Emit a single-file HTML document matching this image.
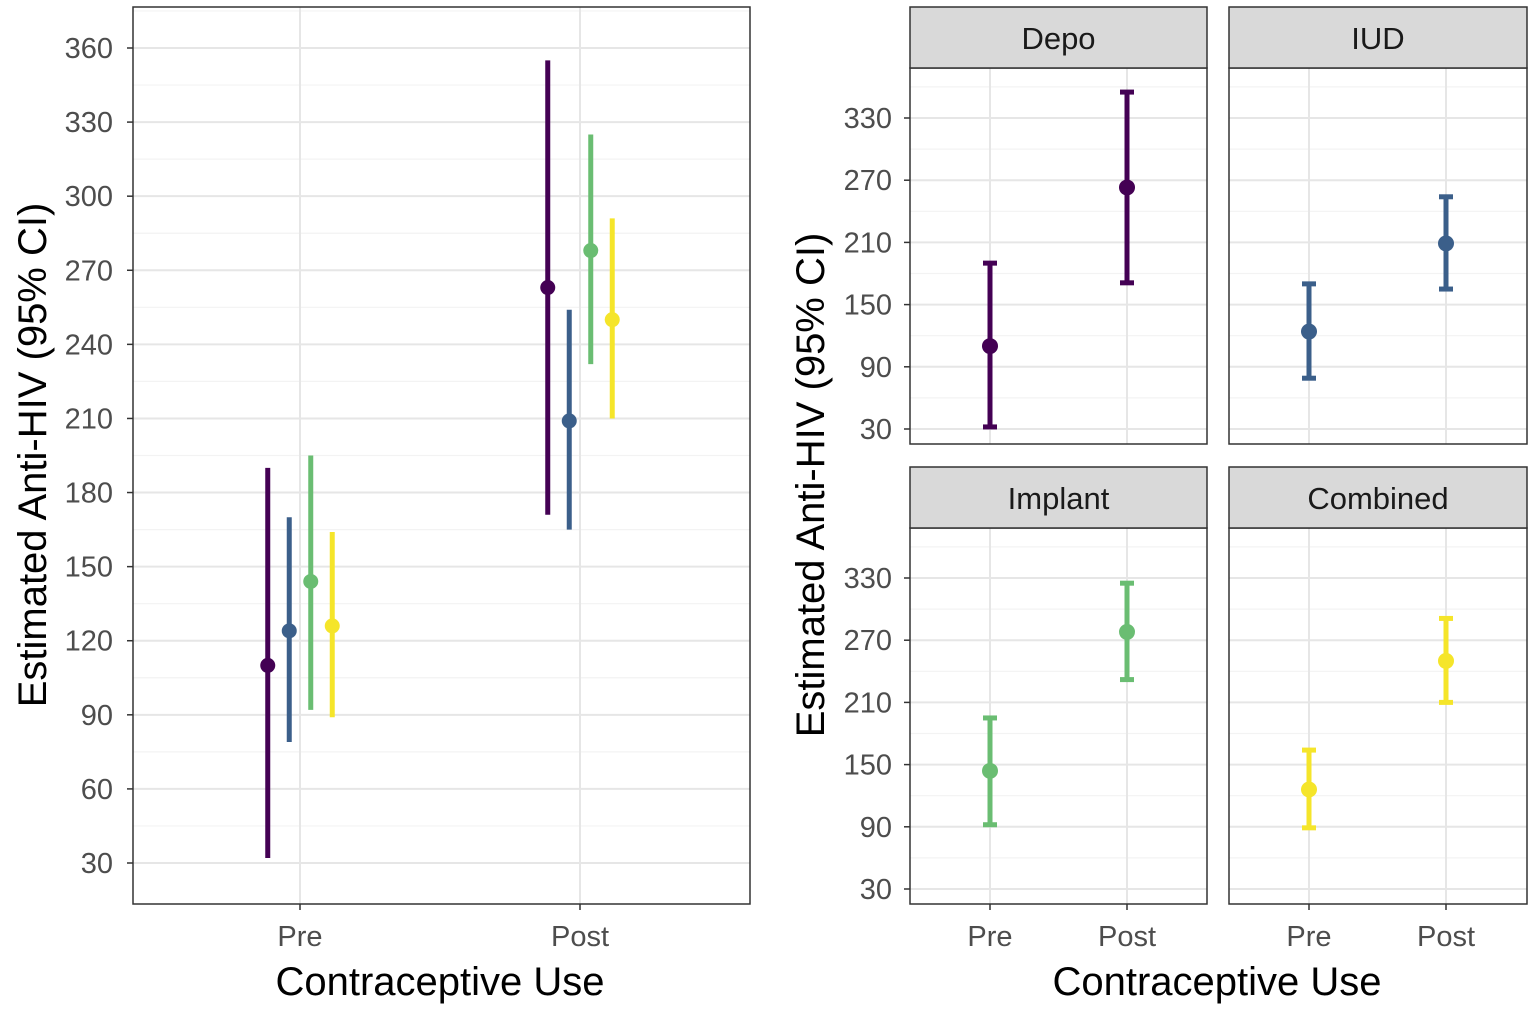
<!DOCTYPE html>
<html><head><meta charset="utf-8"><style>
body{margin:0;background:#fff;}
svg{display:block;font-family:"Liberation Sans",Arial,sans-serif;}
</style></head><body>
<svg id="chart" width="1535" height="1013" viewBox="0 0 1535 1013"></svg>
<script>
const groups = ["Depo","IUD","Implant","Combined"];
const colors = ["#440154","#3b5f8a","#6abd72","#f5e52a"];
const timepoints = ["Pre","Post"];
const estPre = [110,124,144,126];
const lowPre = [32,79,92,89];
const highPre = [190,170,195,164];
const estPost = [263,209,278,250];
const lowPost = [171,165,232,210];
const highPost = [355,254,325,291];
const leftTicks = [30,60,90,120,150,180,210,240,270,300,330,360];
const rightTicks = [30,90,150,210,270,330];

const NS="http://www.w3.org/2000/svg";
const svg=document.getElementById('chart');
function mk(tag,attrs,parent){const e=document.createElementNS(NS,tag);for(const k in attrs)e.setAttribute(k,attrs[k]);(parent||svg).appendChild(e);return e;}

// ---- left panel ----
const L={x0:133,x1:750,y0:7,y1:904};
const ly=v=>863-(v-30)*(815/330);
const lx={Pre:300,Post:580};
const dodge=21.5;
const lg=mk('g',{});


for(let v=45;v<=375;v+=30){const y=ly(v);if(y>L.y0&&y<L.y1){const l=mk('line',{x1:L.x0,x2:L.x1,y1:y,y2:y,stroke:'#f3f3f3','stroke-width':1.2},lg);}}
leftTicks.forEach(v=>{const y=ly(v);
 const l=mk('line',{x1:L.x0,x2:L.x1,y1:y,y2:y,stroke:'#e6e6e6','stroke-width':2},lg);
 
 mk('line',{x1:L.x0-6,x2:L.x0,y1:y,y2:y,stroke:'#333','stroke-width':1.5},lg);
 const t=mk('text',{x:L.x0-20,y:y+10,'text-anchor':'end','font-size':29,fill:'#4d4d4d'},lg);t.textContent=v;
 });
timepoints.forEach(tp=>{const x=lx[tp];
 const l=mk('line',{x1:x,x2:x,y1:L.y0,y2:L.y1,stroke:'#e6e6e6','stroke-width':2},lg);
 
 mk('line',{x1:x,x2:x,y1:L.y1,y2:L.y1+6,stroke:'#333','stroke-width':1.5},lg);
 const t=mk('text',{x:x,y:946,'text-anchor':'middle','font-size':29,fill:'#4d4d4d'},lg);t.textContent=tp;
 });
groups.forEach((g,i)=>{
 [[estPre,lowPre,highPre,'Pre'],[estPost,lowPost,highPost,'Post']].forEach(([e,lo,hi,tp])=>{
  const x=lx[tp]+(i-1.5)*dodge;
  const r=mk('line',{x1:x,x2:x,y1:ly(lo[i]),y2:ly(hi[i]),stroke:colors[i],'stroke-width':5},lg);
  
  const c=mk('circle',{cx:x,cy:ly(e[i]),r:7.5,fill:colors[i]},lg);
  
 });});
mk('rect',{x:L.x0,y:L.y0,width:L.x1-L.x0,height:L.y1-L.y0,fill:'none',stroke:'#333','stroke-width':1.5},lg);
let t=mk('text',{x:440,y:995,'text-anchor':'middle','font-size':40,fill:'#000'});t.textContent='Contraceptive Use';

t=mk('text',{x:0,y:0,'text-anchor':'middle','font-size':40,fill:'#000',transform:'translate(46,455) rotate(-90)'});t.textContent='Estimated Anti-HIV (95% CI)';


// ---- right facets ----
const facets=[{x0:910,x1:1207,y0:68,y1:444,sy:7},{x0:1229,x1:1527,y0:68,y1:444,sy:7},{x0:910,x1:1207,y0:528,y1:904,sy:467},{x0:1229,x1:1527,y0:528,y1:904,sy:467}];
groups.forEach((g,i)=>{
 const f=facets[i];
 const fg=mk('g',{});
 
 const fy=v=>(f.y1-15)-(v-30)*(311/300);
 const fx={Pre:f.x0+80,Post:f.x0+217};
 for(let v=60;v<=360;v+=60){const y=fy(v);if(y>f.y0)mk('line',{x1:f.x0,x2:f.x1,y1:y,y2:y,stroke:'#f3f3f3','stroke-width':1.2},fg);}
 rightTicks.forEach(v=>{const y=fy(v);
  const l=mk('line',{x1:f.x0,x2:f.x1,y1:y,y2:y,stroke:'#e6e6e6','stroke-width':2},fg);
  
  if(i%2==0){mk('line',{x1:f.x0-6,x2:f.x0,y1:y,y2:y,stroke:'#333','stroke-width':1.5},fg);
   const tt=mk('text',{x:f.x0-18,y:y+10,'text-anchor':'end','font-size':29,fill:'#4d4d4d'},fg);tt.textContent=v;
   }});
 timepoints.forEach(tp=>{const x=fx[tp];
  mk('line',{x1:x,x2:x,y1:f.y0,y2:f.y1,stroke:'#e6e6e6','stroke-width':2},fg);
  if(i>=2){mk('line',{x1:x,x2:x,y1:f.y1,y2:f.y1+6,stroke:'#333','stroke-width':1.5},fg);
   const tt=mk('text',{x:x,y:946,'text-anchor':'middle','font-size':29,fill:'#4d4d4d'},fg);tt.textContent=tp;
   }});
 [[estPre,lowPre,highPre,'Pre'],[estPost,lowPost,highPost,'Post']].forEach(([e,lo,hi,tp])=>{
  const x=fx[tp];
  const r=mk('line',{x1:x,x2:x,y1:fy(lo[i]),y2:fy(hi[i]),stroke:colors[i],'stroke-width':5},fg);
  
  [lo[i],hi[i]].forEach(v=>mk('line',{x1:x-7,x2:x+7,y1:fy(v),y2:fy(v),stroke:colors[i],'stroke-width':5},fg));
  const c=mk('circle',{cx:x,cy:fy(e[i]),r:8,fill:colors[i]},fg);
  
 });
 mk('rect',{x:f.x0,y:f.y0,width:f.x1-f.x0,height:f.y1-f.y0,fill:'none',stroke:'#333','stroke-width':1.5},fg);
 const s=mk('rect',{x:f.x0,y:f.sy,width:f.x1-f.x0,height:f.y0-f.sy,fill:'#d9d9d9',stroke:'#333','stroke-width':1.5},fg);
 
 const st=mk('text',{x:(f.x0+f.x1)/2,y:f.sy+42,'text-anchor':'middle','font-size':31,fill:'#1a1a1a'},fg);st.textContent=g;
 
});
t=mk('text',{x:1217,y:995,'text-anchor':'middle','font-size':40,fill:'#000'});t.textContent='Contraceptive Use';

t=mk('text',{x:0,y:0,'text-anchor':'middle','font-size':40,fill:'#000',transform:'translate(824,485) rotate(-90)'});t.textContent='Estimated Anti-HIV (95% CI)';

</script>
</body></html>
